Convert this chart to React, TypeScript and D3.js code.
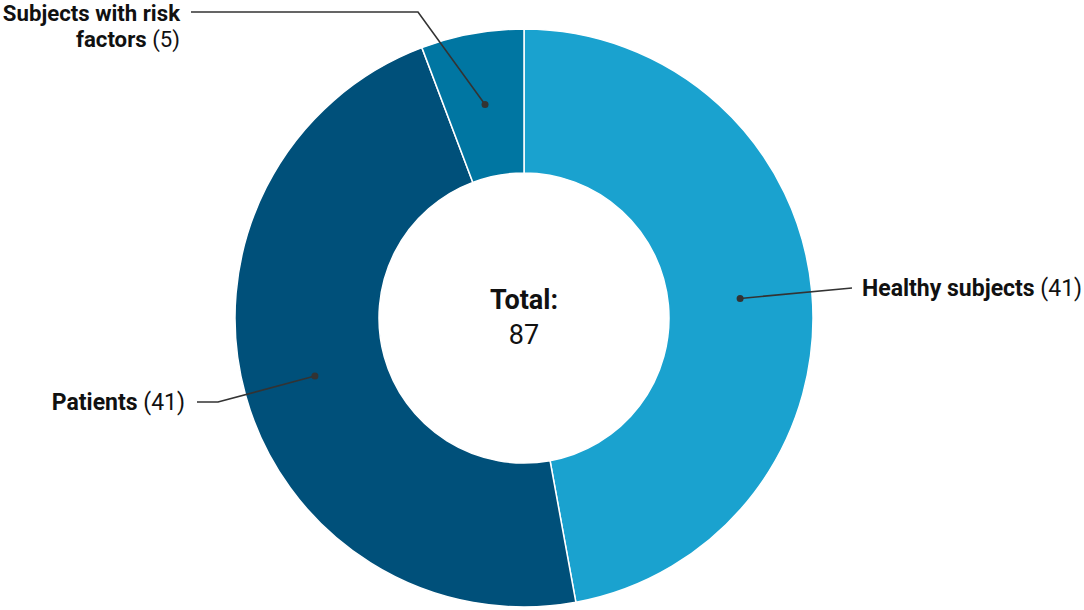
import React from "react";
import * as d3 from "d3";

const categories = ["Healthy subjects", "Patients", "Subjects with risk factors"];
const values = [41, 41, 5];
const colors = ["#1aa2cf", "#00507a", "#0076a2"];
const totalLabel = "Total:";

export default function App() {
  const W = 1084, H = 610;
  const cx = 524, cy = 318, rOuter = 289, rInner = 145;
  const total = d3.sum(values);
  const pie = d3.pie<number>().sort(null).value((d) => d)(values);
  const arc = d3.arc<d3.PieArcDatum<number>>().innerRadius(rInner).outerRadius(rOuter);
  const font = "Roboto, 'Noto Sans', sans-serif";
  const c = pie.map((p) => arc.centroid(p));
  const pt = (i: number) => [cx + c[i][0], cy + c[i][1]];
  const h = pt(0), p = pt(1), r = pt(2);
  return (
    <svg width={W} height={H} style={{ position: "absolute", left: 0, top: 0 }} fontFamily={font}>
      <g transform={`translate(${cx},${cy})`}>
        {pie.map((s, i) => (
          <path key={i} d={arc(s) || ""} fill={colors[i]} stroke="#ffffff" strokeWidth={1.5} />
        ))}
      </g>
      <g stroke="#333" strokeWidth={1.6} fill="none">
        <polyline points={`${h[0]},${h[1]} ${852},${288}`} />
        <polyline points={`${p[0]},${p[1]} ${218},${402} ${197},${402}`} />
        <polyline points={`${r[0]},${r[1]} ${418},${12} ${191},${12}`} />
      </g>
      <g fill="#333">
        <circle cx={h[0]} cy={h[1]} r={3.5} />
        <circle cx={p[0]} cy={p[1]} r={3.5} />
        <circle cx={r[0]} cy={r[1]} r={3.5} />
      </g>
      <g fontSize={23} fill="#111">
        <text x={862} y={296}>
          <tspan fontWeight="bold">{categories[0]}</tspan>
          <tspan> ({values[0]})</tspan>
        </text>
        <text x={185} y={410} textAnchor="end">
          <tspan fontWeight="bold">{categories[1]}</tspan>
          <tspan> ({values[1]})</tspan>
        </text>
      </g>
      <g fontSize={22.2} fill="#111">
        <text x={180} y={21} textAnchor="end" fontWeight="bold">Subjects with risk</text>
        <text x={180} y={47} textAnchor="end">
          <tspan fontWeight="bold">factors</tspan>
          <tspan> ({values[2]})</tspan>
        </text>
      </g>
      <g fontSize={27} fill="#111" textAnchor="middle">
        <text x={cx} y={309} fontWeight="bold">{totalLabel}</text>
        <text x={cx} y={344}>{total}</text>
      </g>
    </svg>
  );
}
